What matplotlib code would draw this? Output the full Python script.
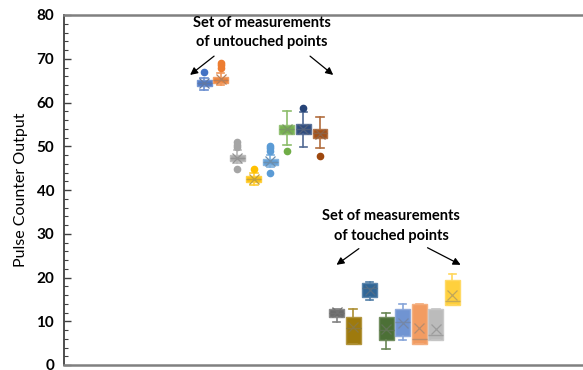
import matplotlib

matplotlib.use("Agg")

import matplotlib.pyplot as plt
from matplotlib.colors import to_rgb
from matplotlib.ticker import MultipleLocator

# Office palette, one colour per measurement series
COLORS = [
    "#4472C4", "#ED7D31", "#A5A5A5", "#FFC000", "#5B9BD5", "#70AD47",
    "#264478", "#9E480E", "#636363", "#997300", "#255E91", "#43682B",
    "#698ED0", "#F1975A", "#B7B7B7", "#FFCD33",
]

# box statistics per series (first 8 untouched, last 8 touched)
Q1 = [63.8, 64.5, 46.6, 41.8, 45.7, 52.7, 52.8, 51.8,
      11.0, 4.8, 15.6, 5.7, 6.6, 4.8, 5.7, 13.7]
MEDIAN = [64.5, 65.2, 47.4, 42.5, 46.5, 54.0, 54.0, 53.0,
          12.0, 8.5, 17.5, 8.0, 9.9, 5.9, 6.9, 14.7]
Q3 = [65.1, 65.9, 48.0, 43.2, 47.2, 54.9, 55.0, 53.9,
      12.8, 10.9, 18.7, 10.9, 12.7, 13.9, 12.7, 19.4]
MEAN = [64.5, 65.3, 47.4, 42.5, 46.6, 53.9, 54.0, 52.9,
        12.1, 8.6, 17.1, 8.2, 9.7, 8.4, 8.2, 16.0]
WHISLO = [62.9, 64.0, 46.1, 41.1, 45.2, 50.4, 49.9, 49.5,
          9.8, 4.8, 14.9, 3.7, 5.7, 4.8, 5.7, 13.7]
WHISHI = [65.6, 66.7, 49.1, 44.0, 48.0, 58.0, 57.9, 56.8,
          12.8, 12.7, 18.9, 11.8, 13.9, 13.9, 12.7, 20.8]
OUTLIERS = [
    [66.9], [68.0, 68.5, 69.0], [44.8, 49.9, 50.4, 51.0], [44.8],
    [43.8, 49.0, 49.5, 50.1], [49.0], [58.8], [47.8],
    [], [], [], [], [], [], [], [],
]

YTICKS = [0, 10, 20, 30, 40, 50, 60, 70, 80]

FONT = "Lato"


def mix(color, other, frac):
    a = to_rgb(color)
    b = to_rgb(other)
    return tuple(x * (1 - frac) + y * frac for x, y in zip(a, b))


fig = plt.figure(figsize=(5.83, 3.70), dpi=100)
ax = fig.add_axes([64 / 583, 5 / 370, 529 / 583, 350 / 370])

positions = list(range(1, len(Q1) + 1))
stats = [
    {"q1": q1, "med": med, "q3": q3, "mean": mean,
     "whislo": lo, "whishi": hi, "fliers": fl}
    for q1, med, q3, mean, lo, hi, fl in zip(Q1, MEDIAN, Q3, MEAN, WHISLO, WHISHI, OUTLIERS)
]

parts = ax.bxp(stats, positions=positions, widths=0.9, capwidths=0.45,
               patch_artist=True, showmeans=True, showfliers=True)

for i, color in enumerate(COLORS):
    box = parts["boxes"][i]
    box.set_facecolor(mix(color, "white", 0.05))
    box.set_edgecolor(mix(color, "white", 0.25))
    box.set_linewidth(1.0)
    parts["medians"][i].set(color=mix(color, "gray", 0.45), linewidth=1.0)
    for art in parts["whiskers"][2 * i:2 * i + 2] + parts["caps"][2 * i:2 * i + 2]:
        art.set(color=mix(color, "white", 0.2), linewidth=1.2)
    parts["means"][i].set(marker="x", markersize=7, markeredgewidth=0.9,
                          markeredgecolor=mix(color, "gray", 0.5), markerfacecolor="none")
    parts["fliers"][i].set(marker="o", markersize=4.5, markerfacecolor=color,
                           markeredgecolor=color, linestyle="none")

ax.set_xlim(-7.47, 24.5)
ax.set_ylim(0, 80)
ax.set_xticks([])
ax.set_yticks(YTICKS)
ax.set_yticklabels([str(t) for t in YTICKS], fontweight="bold", fontsize=11,
                   family=FONT)
ax.yaxis.set_minor_locator(MultipleLocator(2))
ax.tick_params(axis="y", which="major", direction="in", length=5, width=1,
               color="#404040", pad=7)
ax.tick_params(axis="y", which="minor", direction="in", length=3, width=0.8,
               color="#404040")

ax.spines["right"].set_visible(False)
ax.spines["left"].set(color="#404040", linewidth=1.3)
for side in ("top", "bottom"):
    ax.spines[side].set(color="#808080", linewidth=1.8)

ax.set_ylabel("Pulse Counter Output", fontsize=11.5, family=FONT)
ax.yaxis.set_label_coords(-0.068, 0.5)

arrow = dict(arrowstyle="-|>", color="black", lw=0.9, mutation_scale=11,
             shrinkA=0, shrinkB=0)

ax.text(4.51, 76.0, "Set of measurements\nof untouched points", ha="center",
        va="center", fontsize=10.5, fontweight="bold", family=FONT, linespacing=1.5)
ax.annotate("", xy=(0.15, 66.3), xytext=(1.6, 70.6), arrowprops=arrow)
ax.annotate("", xy=(8.8, 66.3), xytext=(7.4, 70.6), arrowprops=arrow)

ax.text(12.3, 31.8, "Set of measurements\nof touched points", ha="center",
        va="center", fontsize=10.5, fontweight="bold", family=FONT, linespacing=1.5)
ax.annotate("", xy=(9.0, 22.9), xytext=(10.35, 26.6), arrowprops=arrow)
ax.annotate("", xy=(16.5, 22.9), xytext=(14.5, 26.8), arrowprops=arrow)

fig.savefig("out.png", dpi=100)
